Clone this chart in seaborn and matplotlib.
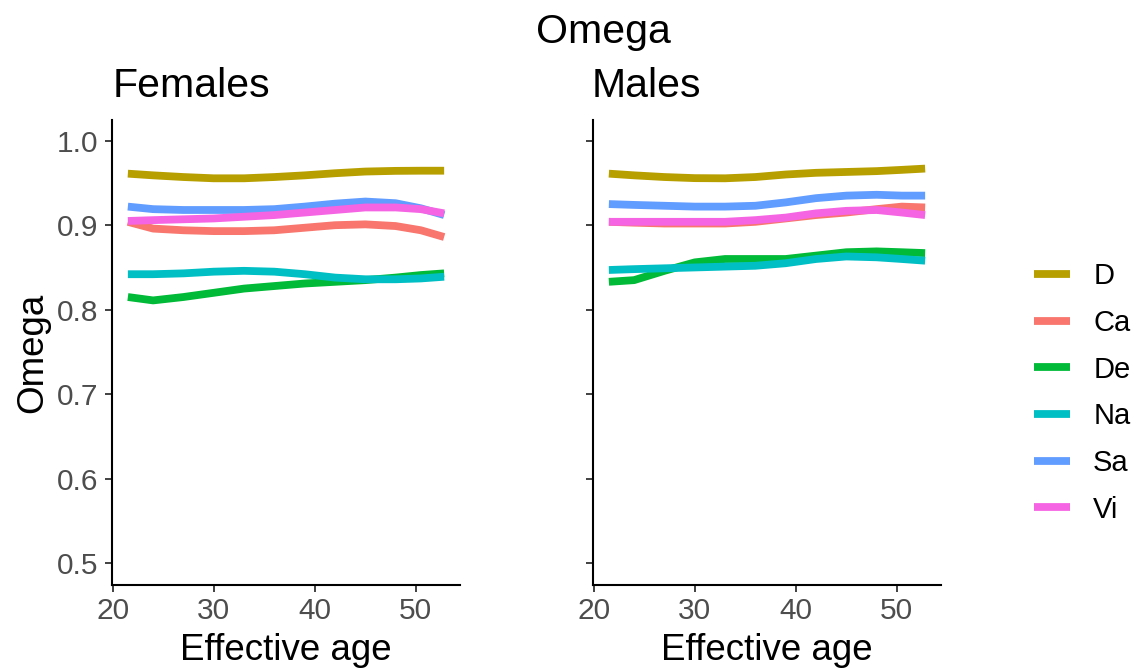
import matplotlib
matplotlib.use("Agg")
import matplotlib.pyplot as plt
import seaborn as sns
import pandas as pd

# Effective age grid and smoothed Omega per group
ages = [21.5, 24, 27, 30, 33, 36, 39, 42, 45, 48, 50.5, 52.8]
groups = ["D", "Ca", "De", "Na", "Sa", "Vi"]
colors = ["#B79F00", "#F8766D", "#00BA38", "#00BFC4", "#619CFF", "#F564E3"]

fem_D = [0.961, 0.959, 0.957, 0.9555, 0.9555, 0.957, 0.959, 0.9615, 0.9635, 0.9643, 0.9645, 0.9645]
fem_Ca = [0.904, 0.896, 0.894, 0.893, 0.893, 0.894, 0.897, 0.900, 0.901, 0.899, 0.894, 0.886]
fem_De = [0.815, 0.811, 0.815, 0.820, 0.825, 0.828, 0.831, 0.833, 0.835, 0.838, 0.841, 0.843]
fem_Na = [0.842, 0.842, 0.843, 0.845, 0.846, 0.845, 0.842, 0.838, 0.836, 0.836, 0.837, 0.839]
fem_Sa = [0.922, 0.919, 0.918, 0.918, 0.918, 0.919, 0.922, 0.9255, 0.928, 0.926, 0.920, 0.912]
fem_Vi = [0.905, 0.906, 0.907, 0.908, 0.910, 0.912, 0.915, 0.918, 0.921, 0.921, 0.919, 0.914]

male_D = [0.961, 0.959, 0.957, 0.9557, 0.9555, 0.957, 0.960, 0.962, 0.963, 0.964, 0.9655, 0.967]
male_Ca = [0.904, 0.903, 0.902, 0.902, 0.902, 0.904, 0.908, 0.912, 0.915, 0.919, 0.922, 0.921]
male_De = [0.833, 0.835, 0.846, 0.856, 0.860, 0.860, 0.860, 0.864, 0.868, 0.869, 0.868, 0.867]
male_Na = [0.847, 0.848, 0.849, 0.850, 0.851, 0.852, 0.855, 0.860, 0.863, 0.862, 0.860, 0.858]
male_Sa = [0.925, 0.924, 0.923, 0.922, 0.922, 0.923, 0.927, 0.932, 0.935, 0.936, 0.935, 0.935]
male_Vi = [0.904, 0.904, 0.904, 0.904, 0.904, 0.906, 0.909, 0.914, 0.917, 0.918, 0.915, 0.912]

x_ticks = [20, 30, 40, 50]
y_ticks = [0.5, 0.6, 0.7, 0.8, 0.9, 1.0]


def long_frame(series):
    rows = []
    for g, vals in zip(groups, series):
        for a, v in zip(ages, vals):
            rows.append({"age": a, "omega": v, "group": g})
    return pd.DataFrame(rows)


df_f = long_frame([fem_D, fem_Ca, fem_De, fem_Na, fem_Sa, fem_Vi])
df_m = long_frame([male_D, male_Ca, male_De, male_Na, male_Sa, male_Vi])

sns.set_style("white")
plt.rcParams["font.family"] = ["Liberation Sans", "DejaVu Sans"]

W, H = 1138, 668
fig = plt.figure(figsize=(W / 100, H / 100), dpi=100)


def box(x0, x1, y0, y1):
    return [x0 / W, 1 - y1 / H, (x1 - x0) / W, (y1 - y0) / H]


ax_f = fig.add_axes(box(112, 460, 120, 585))
ax_m = fig.add_axes(box(593, 941, 120, 585))

palette = dict(zip(groups, colors))
for ax, df in [(ax_f, df_f), (ax_m, df_m)]:
    sns.lineplot(data=df, x="age", y="omega", hue="group", hue_order=groups,
                 palette=palette, linewidth=5.6, estimator=None, sort=True,
                 solid_capstyle="butt", ax=ax, legend=(ax is ax_f))
    ax.set_xlim(19.93, 54.37)
    ax.set_ylim(0.4742, 1.0245)
    ax.set_xticks(x_ticks)
    ax.set_yticks(y_ticks)
    for side in ["top", "right"]:
        ax.spines[side].set_visible(False)
    for side in ["left", "bottom"]:
        ax.spines[side].set_color("black")
        ax.spines[side].set_linewidth(1.5)
    ax.tick_params(axis="both", which="major", length=4.8, width=1.3,
                   color="#333333", labelsize=21.5, labelcolor="#4D4D4D",
                   bottom=True, left=True)
    ax.tick_params(axis="x", pad=4)
    ax.tick_params(axis="y", pad=5)
    ax.set_xlabel("Effective age", fontsize=26.5, color="black", labelpad=5.5)
    ax.grid(False)

ax_f.set_yticklabels([f"{v:.1f}" for v in y_ticks])
ax_f.set_ylabel("Omega", fontsize=26.5, color="black", labelpad=5)
ax_m.set_ylabel("")
ax_m.set_yticklabels([])

# Panel titles and overall title
fig.text(113 / W, 1 - 97 / H, "Females", ha="left", va="baseline",
         fontsize=29.5, color="black")
fig.text(592 / W, 1 - 97 / H, "Males", ha="left", va="baseline",
         fontsize=29.5, color="black")
fig.text(603 / W, 1 - 43 / H, "Omega", ha="center", va="baseline",
         fontsize=29.5, color="black")

handles, labels = ax_f.get_legend_handles_labels()
ax_f.get_legend().remove()
leg = fig.legend(handles, labels, loc="center left",
                 bbox_to_anchor=(1008 / W, 1 - 393 / H), frameon=False,
                 fontsize=21, handlelength=1.24, handletextpad=0.78,
                 labelspacing=0.64, labelcolor="black")
for line in leg.get_lines():
    line.set_linewidth(5.6)
    line.set_solid_capstyle("butt")

fig.savefig("out.png", dpi=100, facecolor="white")
